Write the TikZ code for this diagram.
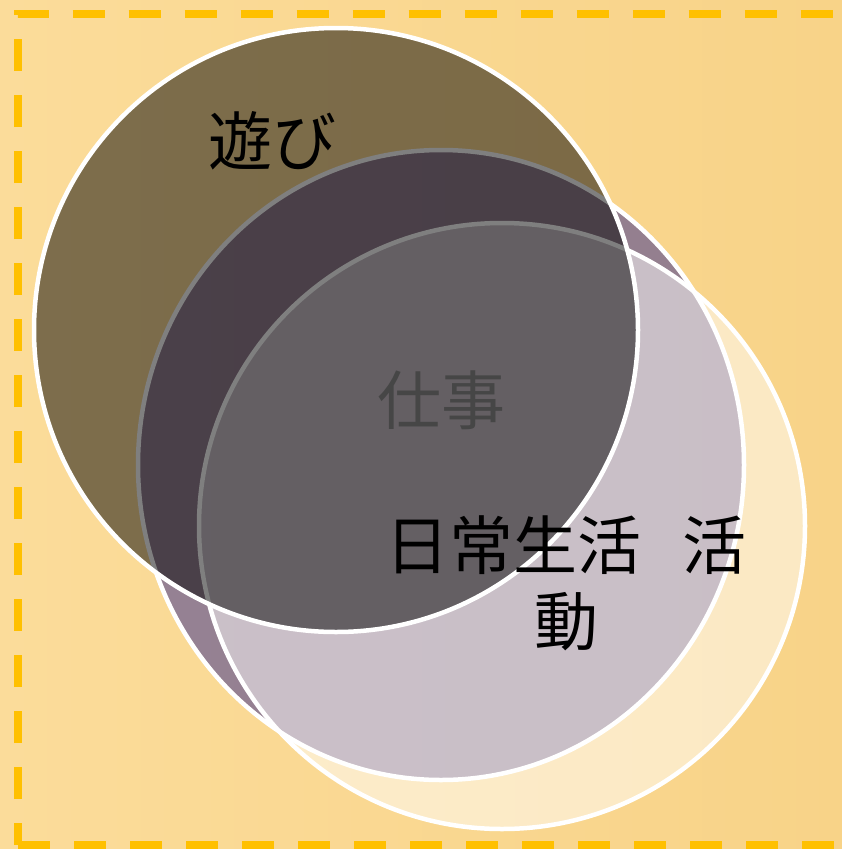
\documentclass[tikz,border=0pt]{standalone}
\usepackage{fontspec}
\newfontfamily\jp{Noto Sans CJK JP}
\definecolor{bgL}{RGB}{251,220,154}
\definecolor{bgR}{RGB}{248,211,136}
\definecolor{dashc}{RGB}{255,192,0}
\definecolor{workc}{RGB}{82,70,145}
\definecolor{worktext}{RGB}{70,70,70}
\begin{document}
\begin{tikzpicture}[x=1pt,y=-1pt,
  venn/.style={line width=4.5pt, draw=white},
  border/.style={dashc, line width=8pt, dash pattern=on 32pt off 24pt},
  lbl/.style={font=\jp\fontsize{64}{64}\selectfont, inner sep=0pt}]
\useasboundingbox (0,0) rectangle (842,849);
\clip (0,0) rectangle (842,849);
\shade[left color=bgL, right color=bgR] (0,0) rectangle (842,849);
\draw[border, dash phase=10pt] (18,845) -- (18,13.5) -- (900,13.5);
\draw[border] (18,845) -- (900,845);
% work circle
\fill[workc, fill opacity=0.6] (441,465) ellipse [x radius=303pt, y radius=315pt];
\draw[venn] (441,465) ellipse [x radius=303pt, y radius=315pt];
% daily life circle
\fill[white, fill opacity=0.5] (502,526) circle [radius=303pt];
\draw[venn] (502,526) circle [radius=303pt];
% play circle
\fill[black, fill opacity=0.5] (336,330) circle [radius=302pt];
\draw[venn] (336,330) circle [radius=302pt];
% labels
\node[lbl] (asobi) at (272.5,141) {遊び};
\node[lbl, text=worktext] (shigoto) at (441.5,400) {仕事};
\node[lbl] (nichijo) at (566,545) {日常生活\hspace{42pt}活};
\node[lbl] (dousa) at (566,621.5) {動};
\end{tikzpicture}
\end{document}
